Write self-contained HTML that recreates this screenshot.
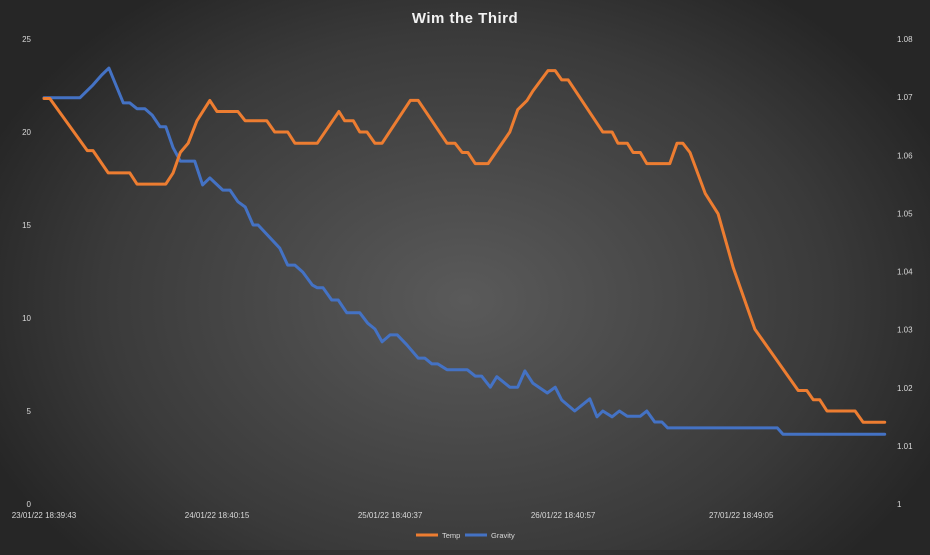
<!DOCTYPE html>
<html><head><meta charset="utf-8"><style>
html,body{margin:0;padding:0}
body{width:930px;height:550px;overflow:hidden;background:radial-gradient(ellipse 520px 380px at 465px 300px,#5a5a5a 0%,#3a3a3a 70%,#262626 100%);font-family:"Liberation Sans",sans-serif}
svg text{font-family:"Liberation Sans",sans-serif}
</style></head><body>
<svg id="chart" width="930" height="550" xmlns="http://www.w3.org/2000/svg">
<text x="465" y="23" text-anchor="middle" font-size="15" font-weight="bold" fill="#f2f2f2" letter-spacing="0.5">Wim the Third</text>
<g id="axes"></g>
<g id="series"></g>
<g>
<line x1="416" y1="535" x2="438" y2="535" stroke="#ED7D31" stroke-width="3"/>
<text x="442" y="538" font-size="7.5" fill="#d9d9d9">Temp</text>
<line x1="465" y1="535" x2="487" y2="535" stroke="#4472C4" stroke-width="3"/>
<text x="491" y="538" font-size="7.5" fill="#d9d9d9">Gravity</text>
</g>
</svg>
<script>
const xTickHours=[0,24,48,72,96.7];
const xTickLabels=["23/01/22 18:39:43","24/01/22 18:40:15","25/01/22 18:40:37","26/01/22 18:40:57","27/01/22 18:49:05"];
const leftTicks=[0,5,10,15,20,25];
const rightTicks=[1,1.01,1.02,1.03,1.04,1.05,1.06,1.07,1.08];
const tempHours=[0,0.8,6,6.8,8.9,11.9,12.9,16.9,17.9,18.9,20,21.2,23,24,26.9,27.9,30.9,32,33.8,34.8,37.9,40.9,41.7,42.9,43.8,44.8,45.9,46.9,50.8,51.9,55.9,57,58,58.8,59.8,61.6,64.6,65.7,67,67.8,69.9,70.9,71.8,72.7,77.5,78.8,79.6,80.9,81.7,82.7,83.6,86.8,87.8,88.6,89.6,91.7,93.5,95.6,98.6,104.6,105.8,106.7,107.6,108.6,112.5,113.6,116.6];
const tempValues=[21.8,21.8,19.0,19.0,17.8,17.8,17.2,17.2,17.8,18.9,19.4,20.6,21.7,21.1,21.1,20.6,20.6,20.0,20.0,19.4,19.4,21.1,20.6,20.6,20.0,20.0,19.4,19.4,21.7,21.7,19.4,19.4,18.9,18.9,18.3,18.3,20.0,21.2,21.7,22.2,23.3,23.3,22.8,22.8,20.0,20.0,19.4,19.4,18.9,18.9,18.3,18.3,19.4,19.4,18.9,16.7,15.6,12.7,9.4,6.1,6.1,5.6,5.6,5.0,5.0,4.4,4.4];
const gravHours=[0,5,6.8,8,9,11,11.9,12.9,14,15,16.1,16.9,17.9,18.9,20.9,22,23,24.8,25.8,26.9,27.9,29,29.7,32.7,33.8,34.8,35.9,37.2,37.9,38.7,39.9,40.8,42,43.8,44.9,45.9,46.9,48,49,50.3,51.9,52.8,53.8,54.6,55.9,58.7,59.8,60.7,61.9,62.8,64.6,65.7,66.7,67.8,69.8,70.9,71.8,73.6,75.7,76.7,77.5,78.8,79.8,80.9,82.7,83.6,84.7,85.7,86.5,101.7,102.5,116.6];
const gravValues=[1.0699,1.0699,1.0721,1.0738,1.0750,1.0690,1.0690,1.0680,1.0680,1.0669,1.0649,1.0649,1.0613,1.0590,1.0590,1.0549,1.0561,1.0540,1.0540,1.0520,1.0511,1.0480,1.0480,1.0440,1.0411,1.0411,1.0399,1.0377,1.0372,1.0372,1.0351,1.0351,1.0329,1.0329,1.0311,1.0301,1.0279,1.0291,1.0291,1.0274,1.0251,1.0251,1.0241,1.0241,1.0231,1.0231,1.0220,1.0220,1.0201,1.0219,1.0201,1.0201,1.0229,1.0208,1.0191,1.0201,1.0179,1.0160,1.0181,1.0150,1.0160,1.0150,1.0160,1.0151,1.0151,1.0160,1.0141,1.0141,1.0131,1.0131,1.0120,1.0120];

const NS='http://www.w3.org/2000/svg';
const X=h=>44+h*7.21;
const YL=v=>504-(v/25)*465;
const YR=v=>504-((v-1)/0.08)*465;
const axes=document.getElementById('axes');
const series=document.getElementById('series');
function txt(parent,x,y,s,anchor){const t=document.createElementNS(NS,'text');t.setAttribute('x',x);t.setAttribute('y',y);t.setAttribute('font-size','8');t.setAttribute('fill','#d9d9d9');t.setAttribute('text-anchor',anchor);t.textContent=s;parent.appendChild(t);return t;}
leftTicks.forEach(v=>{const t=txt(axes,31,YL(v)+3,String(v),'end');

});
rightTicks.forEach(v=>{const t=txt(axes,897,YR(v)+3,v===1?'1':v.toFixed(2),'start');

});
xTickHours.forEach((h,i)=>{const t=txt(axes,X(h),518,xTickLabels[i],'middle');

});
function line(hs,vs,yf,color,name){const p=document.createElementNS(NS,'polyline');
p.setAttribute('points',hs.map((h,i)=>X(h).toFixed(1)+','+yf(vs[i]).toFixed(1)).join(' '));
p.setAttribute('fill','none');p.setAttribute('stroke',color);p.setAttribute('stroke-width','3');p.setAttribute('stroke-linejoin','round');p.setAttribute('stroke-linecap','round');


series.appendChild(p);}
line(gravHours,gravValues,YR,'#4472C4','gravity-line');
line(tempHours,tempValues,YL,'#ED7D31','temp-line');
</script>
</body></html>
